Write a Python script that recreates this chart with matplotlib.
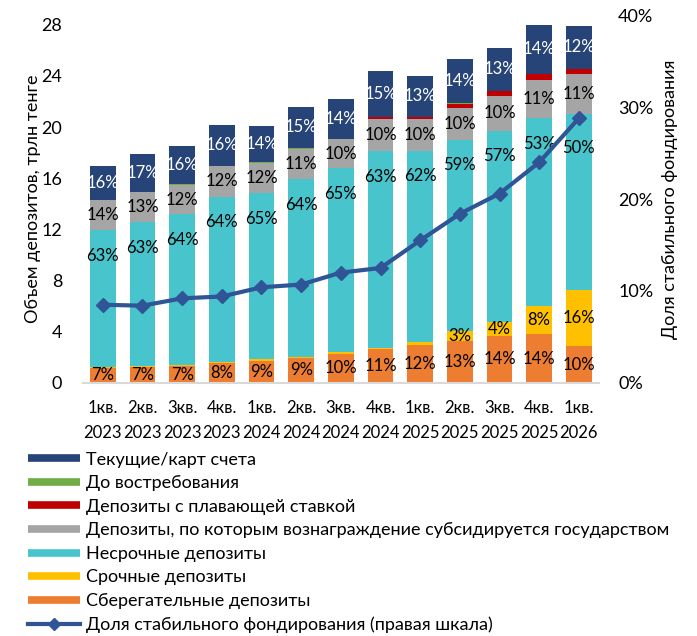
import matplotlib
matplotlib.use('Agg')
import numpy as np
import matplotlib.pyplot as plt
from matplotlib.lines import Line2D
from matplotlib.ticker import FuncFormatter

plt.rcParams['font.family'] = ['Lato', 'DejaVu Sans']

quarters = ['1кв.\n2023', '2кв.\n2023', '3кв.\n2023', '4кв.\n2023',
            '1кв.\n2024', '2кв.\n2024', '3кв.\n2024', '4кв.\n2024',
            '1кв.\n2025', '2кв.\n2025', '3кв.\n2025', '4кв.\n2025',
            '1кв.\n2026']

# total deposits, trillion tenge
totals = [17.0, 17.9, 18.5, 20.2, 20.1, 21.6, 22.2, 24.4, 24.0, 25.3, 26.2, 28.0, 27.9]

# shares of total, %
savings = [7.0, 7.0, 7.0, 7.6, 8.6, 9.0, 10.2, 10.8, 12.4, 13.0, 14.0, 13.6, 10.2]
term = [0.4, 0.5, 0.5, 0.5, 0.5, 0.5, 0.5, 0.5, 1.0, 3.1, 4.2, 7.8, 15.7]
nonterm = [62.8, 62.8, 63.9, 64.0, 64.6, 64.2, 65.0, 63.0, 62.3, 59.0, 57.1, 52.6, 49.6]
subsid = [13.9, 12.9, 12.2, 11.8, 12.0, 11.1, 10.1, 10.4, 10.4, 10.0, 10.3, 10.6, 11.0]
floating = [0.0, 0.0, 0.0, 0.0, 0.0, 0.0, 0.0, 0.5, 0.6, 1.2, 1.5, 1.6, 1.5]
demand = [0.2, 0.2, 0.3, 0.2, 0.2, 0.2, 0.2, 0.1, 0.1, 0.1, 0.1, 0.1, 0.1]
current = [15.7, 16.6, 16.1, 15.9, 14.1, 15.0, 14.0, 14.7, 13.2, 13.6, 12.8, 13.7, 11.9]

# stable funding share, %
stable = [8.5, 8.4, 9.2, 9.4, 10.4, 10.7, 12.0, 12.5, 15.5, 18.4, 20.6, 24.0, 28.8]

series = [
    ('Сберегательные депозиты', savings, '#ED7D31', 'black'),
    ('Срочные депозиты', term, '#FFC000', 'black'),
    ('Несрочные депозиты', nonterm, '#48C5CC', 'black'),
    ('Депозиты, по которым вознаграждение субсидируется государством', subsid, '#A5A5A5', 'black'),
    ('Депозиты с плавающей ставкой', floating, '#C00000', None),
    ('До востребования', demand, '#70AD47', None),
    ('Текущие/карт счета', current, '#264478', 'white'),
]

YMAX = 28.75
PMAX = 40.0

fig = plt.figure(figsize=(6.97, 6.36), dpi=100)
ax = fig.add_axes([0.119, 0.398, 0.740, 0.578])
x = np.arange(len(quarters))
tot = np.array(totals)
line_left = np.array(stable) / PMAX * YMAX  # line position in left-axis units
bottom = np.zeros(len(x))
for name, share, color, tcol in series:
    vals = tot * np.array(share) / 100.0
    ax.bar(x, vals, 0.65, bottom=bottom, color=color, linewidth=0)
    if tcol is not None:
        for i in range(len(x)):
            if share[i] >= 2:
                ypos = bottom[i] + vals[i] / 2
                if name == 'Несрочные депозиты':
                    # labels sit near the top of this segment, clear of the line
                    ypos = bottom[i] + vals[i] - 2.0
                    if ypos - 1.0 < line_left[i] < ypos + 2.5:
                        ypos = line_left[i] - 2.3
                ax.text(x[i], ypos, '%d%%' % round(share[i]),
                        ha='center', va='center', fontsize=12, color=tcol)
    bottom += vals

ax.set_xlim(-0.5, 12.5)
ax.set_ylim(0, YMAX)
ax.set_yticks(range(0, 29, 4))
ax.set_xticks(x)
ax.set_xticklabels(quarters, fontsize=12, linespacing=1.7)
ax.tick_params(axis='both', length=0)
ax.tick_params(axis='y', labelsize=13, pad=15)
ax.tick_params(axis='x', pad=12)
for s in ['top', 'right', 'left']:
    ax.spines[s].set_visible(False)
ax.spines['bottom'].set_color('#D9D9D9')
ax.spines['bottom'].set_linewidth(1.5)
ax.set_ylabel('Объем депозитов, трлн тенге', fontsize=13, labelpad=0)

ax2 = ax.twinx()
ax2.plot(x, np.array(stable) / 100.0, color='#2F5597', lw=3, marker='D', markersize=7)
ax2.set_ylim(0, PMAX / 100.0)
ax2.set_yticks([0, 0.1, 0.2, 0.3, 0.4])
ax2.yaxis.set_major_formatter(FuncFormatter(lambda v, p: '%d%%' % round(v * 100)))
ax2.tick_params(axis='y', length=0, labelsize=13, pad=14)
for s in ax2.spines.values():
    s.set_visible(False)
ax2.set_ylabel('Доля стабильного фондирования', fontsize=13, labelpad=6)

handles = [Line2D([0], [0], color=c, lw=5.5, solid_capstyle='butt')
           for name, share, c, t in reversed(series)]
labels = [name for name, share, c, t in reversed(series)]
handles.append(Line2D([0], [0], color='#2F5597', lw=3, marker='D', markersize=6))
labels.append('Доля стабильного фондирования (правая шкала)')
fig.legend(handles, labels, loc='upper left', bbox_to_anchor=(0.040, 0.290),
           frameon=False, fontsize=13, handlelength=2.9, handletextpad=0.3,
           labelspacing=0.42, borderaxespad=0, borderpad=0)

fig.savefig('out.png', dpi=100)
